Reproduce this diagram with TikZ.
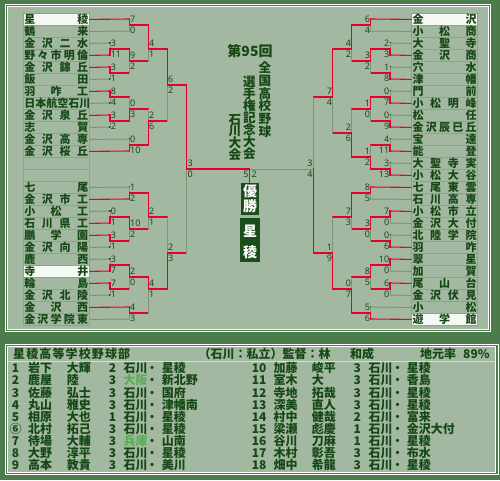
\documentclass[tikz,border=0pt]{standalone}
\usepackage{fontspec}
\setmainfont{Noto Sans CJK JP}
\newfontfamily\scf{Noto Sans}
\definecolor{framec}{HTML}{4C7C4C}
\definecolor{bgc}{HTML}{A3B8A0}
\definecolor{ink}{HTML}{164816}
\definecolor{redl}{HTML}{E8002A}
\definecolor{grayl}{HTML}{7A9577}
\definecolor{boxl}{HTML}{8CA589}
\definecolor{champ}{HTML}{1B4D1B}
\definecolor{lgreen}{HTML}{55B055}
\definecolor{hl}{HTML}{F6F8F4}
\definecolor{hdl}{HTML}{D5DED3}
\newcommand\tn[1]{\hbox to 64pt{\spaceskip=0pt plus 1fil\relax #1}}
\newcommand\spr[2]{\hbox to #1{\spaceskip=0pt plus 1fil\relax #2}}
\tikzset{
  gl/.style={grayl,line width=1pt,line cap=rect},
  rl/.style={redl,line width=1.1pt,line cap=rect},
  tbox/.style={draw=boxl,line width=0.8pt,minimum width=66.3pt,minimum height=12pt,inner sep=0pt,anchor=north west,
    font=\bfseries\fontsize{11}{11}\selectfont,text=ink,text height=9.6pt,text depth=1.4pt},
  sc/.style={font=\scf\fontsize{9}{9}\selectfont,text=ink,inner sep=0pt,text height=6.4pt,text depth=0pt},
  ttl/.style={font=\bfseries\fontsize{12.6}{12.6}\selectfont,text=ink,inner sep=0pt,text height=10.6pt,text depth=1.0pt},
  chw/.style={font=\bfseries\fontsize{14}{14}\selectfont,text=white,inner sep=0pt,text height=12.3pt,text depth=1.7pt},
  rt/.style={font=\bfseries\fontsize{12}{12}\selectfont,text=ink,inner sep=0pt,text height=10.56pt,text depth=1.44pt},
}
\newcommand\Lm[9]{%
  \draw[gl] (#2,#3) -- (#2,#4);
  \ifnum#8=0 \draw[rl] (#2,#3) -- (#2,#5) -- (#9,#5);\else \draw[rl] (#2,#4) -- (#2,#5) -- (#9,#5);\fi
  \node[sc,anchor=west] (#1a) at (#2+0.6,#5-5.3) {#6};
  \node[sc,anchor=west] (#1b) at (#2+0.6,#5+5.3) {#7};}
\newcommand\Rm[9]{%
  \draw[gl] (#2,#3) -- (#2,#4);
  \ifnum#8=0 \draw[rl] (#2,#3) -- (#2,#5) -- (#9,#5);\else \draw[rl] (#2,#4) -- (#2,#5) -- (#9,#5);\fi
  \node[sc,anchor=east] (#1a) at (#2-0.6,#5-5.3) {#6};
  \node[sc,anchor=east] (#1b) at (#2-0.6,#5+5.3) {#7};}
\begin{document}
\begin{tikzpicture}[x=1pt,y=-1pt]
\useasboundingbox (0,0) rectangle (500,480);
\fill[framec] (0,0) rectangle (500,480);
% top panel frame
\draw[white,line width=1pt] (5.5,4.8) rectangle (490.8,331.8);
\draw[white,line width=1pt] (7.6,6.9) rectangle (488.4,329.7);
\fill[bgc] (8.1,7.4) rectangle (487.9,329.2);
% bottom panel frame
\draw[white,line width=1pt] (5.5,344.2) rectangle (498,474.8);
\draw[white,line width=1pt] (7.6,346.3) rectangle (495.8,472.7);
\fill[bgc] (8.1,346.8) rectangle (495.3,472.2);
\draw[hdl,line width=1pt] (8.1,361.7) -- (495.3,361.7);

% team lists
\foreach \nm [count=\i from 0] in {星 稜,鶴 来,金 沢 二 水,野 々 市 明 倫,金 沢 錦 丘,飯 田,羽 咋 工,日 本 航 空 石 川,金 沢 泉 丘,志 賀,金 沢 高 専,金 沢 桜 丘,{},{},七 尾,金 沢 市 工,小 松 工,石 川 県 工,鵬 学 園,金 沢 向 陽,鹿 西,寺 井,輪 島,金 沢 北 陵,金 沢 西,金 沢 学 院 東}{
  \ifnum\i=0 \def\ff{hl}\else\ifnum\i=21 \def\ff{hl}\else\def\ff{none}\fi\fi
  \node[tbox,fill=\ff] (L\i) at (22.7,13+12*\i) {\tn{\nm}};
}
\foreach \nm [count=\i from 0] in {金 沢,小 松 商,大 聖 寺,金 沢 商,穴 水,津 幡,門 前,小 松 明 峰,松 任,金 沢 辰 巳 丘,宝 達,能 登,大 聖 寺 実,小 松 大 谷,七 尾 東 雲,石 川 高 専,小 松 市 立,金 沢 大 付,北 陸 学 院,羽 咋,翠 星,加 賀,尾 山 台,金 沢 伏 見,小 松,遊 学 館}{
  \ifnum\i=0 \def\ff{hl}\else\ifnum\i=25 \def\ff{hl}\else\def\ff{none}\fi\fi
  \node[tbox,fill=\ff] (R\i) at (411,13+12*\i) {\tn{\nm}};
}

% leader lines
\foreach \i/\x/\cc/\d in {0/129.3/rl/0,1/129.3/gl/1,2/110/gl/1,3/110/rl/0,4/110/rl/0,5/110/gl/1,6/110/rl/0,7/110/gl/1,8/110/rl/0,9/110/gl/1,10/129.3/gl/1,11/129.3/rl/0,14/129.3/gl/1,15/129.3/rl/0,16/110/gl/1,17/110/rl/0,18/110/rl/0,19/110/gl/1,20/110/gl/1,21/110/rl/0,22/110/rl/0,23/110/gl/1,24/129.3/rl/0,25/129.3/gl/1}{
  \pgfmathsetmacro\yy{19+12*\i}
  \draw[\cc] (L\i.east) -- (\x,\yy);
  \ifnum\d=1 \fill[ink] (\x-0.7,\yy-0.6) rectangle (\x+0.5,\yy+0.6);\fi
}
\foreach \i/\x/\cc/\d in {0/370.7/rl/0,1/370.7/gl/1,2/390/gl/1,3/390/rl/0,4/390/gl/1,5/390/rl/0,6/390/gl/1,7/390/rl/0,8/390/gl/1,9/390/rl/0,10/390/gl/1,11/390/rl/0,12/390/gl/1,13/390/rl/0,14/370.7/rl/0,15/370.7/gl/1,16/390/rl/0,17/390/gl/1,18/390/gl/1,19/390/rl/0,20/390/rl/0,21/390/gl/1,22/390/rl/0,23/390/gl/1,24/370.7/gl/1,25/370.7/rl/0}{
  \pgfmathsetmacro\yy{19+12*\i}
  \draw[\cc] (R\i.west) -- (\x,\yy);
  \ifnum\d=1 \fill[ink] (\x-0.5,\yy-0.6) rectangle (\x+0.7,\yy+0.6);\fi
}

% left bracket
\Lm{m1}{129.3}{19}{31}{25}{7}{0}{0}{148.3}
\Lm{m2}{110}{43}{55}{49}{3}{11}{1}{129.3}
\Lm{m3}{110}{67}{79}{73}{3}{1}{0}{129.3}
\Lm{m4}{129.3}{49}{73}{61}{9}{2}{0}{148.3}
\Lm{m5}{148.3}{25}{61}{49}{4}{1}{0}{167.3}
\Lm{m6}{110}{91}{103}{97}{8}{4}{0}{129.3}
\Lm{m7}{110}{115}{127}{121}{3}{2}{0}{129.3}
\Lm{m8}{129.3}{97}{121}{109}{0}{3}{1}{148.3}
\Lm{m9}{129.3}{139}{151}{145}{0}{10}{1}{148.3}
\Lm{m10}{148.3}{109}{145}{121}{2}{6}{1}{167.3}
\Lm{m11}{167.3}{49}{121}{85}{6}{2}{0}{186.7}
\Lm{m12}{129.3}{187}{199}{193}{1}{2}{1}{148.3}
\Lm{m13}{110}{211}{223}{217}{0}{1}{1}{129.3}
\Lm{m14}{110}{235}{247}{241}{3}{1}{0}{129.3}
\Lm{m15}{129.3}{217}{241}{229}{10}{2}{0}{148.3}
\Lm{m16}{148.3}{193}{229}{217}{2}{1}{0}{167.3}
\Lm{m17}{110}{259}{271}{265}{3}{7}{1}{129.3}
\Lm{m18}{110}{283}{295}{289}{7}{1}{0}{129.3}
\Lm{m19}{129.3}{265}{289}{277}{2}{0}{0}{148.3}
\Lm{m20}{129.3}{307}{319}{313}{4}{3}{0}{148.3}
\Lm{m21}{148.3}{277}{313}{289}{4}{1}{0}{167.3}
\Lm{m22}{167.3}{217}{289}{253}{2}{3}{1}{186.7}
\draw[gl] (249.3,169) -- (313.3,169);
\Lm{m23}{186.7}{85}{253}{169}{3}{0}{0}{249.3}

% right bracket
\Rm{n1}{370.7}{19}{31}{25}{6}{4}{0}{351.7}
\Rm{n2}{390}{43}{55}{49}{2}{3}{1}{370.7}
\Rm{n3}{390}{67}{79}{73}{1}{8}{1}{370.7}
\Rm{n4}{370.7}{49}{73}{61}{3}{2}{0}{351.7}
\Rm{n5}{351.7}{25}{61}{49}{4}{2}{0}{332.7}
\Rm{n6}{390}{91}{103}{97}{0}{7}{1}{370.7}
\Rm{n7}{390}{115}{127}{121}{0}{9}{1}{370.7}
\Rm{n8}{370.7}{97}{121}{109}{1}{0}{0}{351.7}
\Rm{n9}{390}{139}{151}{145}{4}{11}{1}{370.7}
\Rm{n10}{390}{163}{175}{169}{3}{13}{1}{370.7}
\Rm{n11}{370.7}{145}{169}{157}{1}{2}{1}{351.7}
\Rm{n12}{351.7}{109}{157}{133}{2}{6}{1}{332.7}
\Rm{n13}{332.7}{49}{133}{97}{7}{4}{0}{313.3}
\Rm{n14}{370.7}{187}{199}{193}{8}{5}{0}{351.7}
\Rm{n15}{390}{211}{223}{217}{7}{0}{0}{370.7}
\Rm{n16}{390}{235}{247}{241}{0}{6}{1}{370.7}
\Rm{n17}{370.7}{217}{241}{229}{3}{0}{0}{351.7}
\Rm{n18}{351.7}{193}{229}{217}{7}{3}{0}{332.7}
\Rm{n19}{390}{259}{271}{265}{10}{0}{0}{370.7}
\Rm{n20}{390}{283}{295}{289}{6}{0}{0}{370.7}
\Rm{n21}{370.7}{265}{289}{277}{8}{5}{0}{351.7}
\Rm{n22}{370.7}{307}{319}{313}{5}{6}{1}{351.7}
\Rm{n23}{351.7}{277}{313}{289}{0}{7}{1}{332.7}
\Rm{n24}{332.7}{217}{289}{253}{1}{9}{1}{313.3}
\Rm{n25}{313.3}{97}{253}{169}{3}{4}{1}{313.3}

% final
\node[sc,anchor=east] (f1) at (248.6,174.5) {5};
\node[sc,anchor=west] (f2) at (251.3,174.5) {2};
\node[fill=champ,minimum width=18pt,minimum height=31.6pt,inner sep=0pt,anchor=north] (win) at (250,182.7) {};
\node[fill=champ,minimum width=20pt,minimum height=44.4pt,inner sep=0pt,anchor=north] (champ) at (250,217.3) {};
\draw[rl,line cap=butt] (249.3,168.5) -- (win.north -| 249.3,0);
\node[chw] (w1) at (250,191.2) {優};
\node[chw] (w2) at (250,206.2) {勝};
\node[chw] (w3) at (250,231.6) {星};
\node[chw] (w4) at (250,252.4) {稜};

% title
\node[ttl,font=\bfseries\fontsize{14}{14}\selectfont,text height=12pt,text depth=1.6pt] (t0) at (250,51.6) {第95回};
\foreach \ch [count=\k from 0] in {全,国,高,校,野,球}{\node[ttl] (ta\k) at (265,68+12.7*\k) {\ch};}
\foreach \ch [count=\k from 0] in {選,手,権,記,念,大,会}{\node[ttl] (tb\k) at (249.4,81.3+12.1*\k) {\ch};}
\foreach \ch [count=\k from 0] in {石,川,大,会}{\node[ttl] (tc\k) at (235,119.3+11.8*\k) {\ch};}

% roster header
\node[rt,anchor=west] (hd1) at (13,354.2) {\spr{117pt}{星 稜 高 等 学 校 野 球 部}};
\node[rt,anchor=west] (hd2) at (198.5,354.2) {（石川：私立）監督：林};
\node[rt,anchor=west] (hd3) at (350,354.2) {和成};
\node[rt,anchor=west] (hd4) at (420,354.2) {地元率};
\node[rt,anchor=west] (hd5) at (463,354.2) {89\%};

% roster
\foreach \num/\sur/\giv/\gr/\pc/\pf/\sch [count=\k from 0] in {
1/岩下/大輝/2/ink/石川/星稜,
2/鹿屋/陸/3/lgreen/大阪/新北野,
3/佐藤/弘士/3/ink/石川/国府,
4/丸山/雅史/3/ink/石川/津幡南,
5/相原/大也/1/ink/石川/星稜,
⑥/北村/拓己/3/ink/石川/星稜,
7/待場/大輔/3/lgreen/兵庫/山南,
8/大野/淳平/3/ink/石川/星稜,
9/高本/敦貴/3/ink/石川/美川}{
  \pgfmathsetmacro\yy{368.3+12.1*\k}
  \node[rt] (an\k) at (15.6,\yy) {\num};
  \node[rt,anchor=west] (as\k) at (28,\yy) {\sur};
  \node[rt,anchor=west] (ag\k) at (66.7,\yy) {\giv};
  \node[rt] (ay\k) at (112.5,\yy) {\gr};
  \node[rt,anchor=west,text=\pc] (ap\k) at (123.3,\yy) {\pf};
  \node[rt] (ad\k) at (152,\yy) {・};
  \node[rt,anchor=west] (ac\k) at (161.7,\yy) {\sch};
}
\foreach \num/\sur/\giv/\gr/\pf/\sch [count=\k from 0] in {
10/加藤/峻平/3/石川/星稜,
11/室木/大/3/石川/香島,
12/寺地/拓哉/3/石川/星稜,
13/深美/直人/3/石川/星稜,
14/村中/健哉/2/石川/富来,
15/梁瀬/彪慶/1/石川/金沢大付,
16/谷川/刀麻/1/石川/星稜,
17/木村/彰吾/3/石川/布水,
18/畑中/希龍/3/石川/星稜}{
  \pgfmathsetmacro\yy{368.3+12.1*\k}
  \node[rt] (bn\k) at (259.2,\yy) {\num};
  \node[rt,anchor=west] (bs\k) at (273.3,\yy) {\sur};
  \node[rt,anchor=west] (bg\k) at (311.7,\yy) {\giv};
  \node[rt] (by\k) at (357.3,\yy) {\gr};
  \node[rt,anchor=west] (bp\k) at (368.3,\yy) {\pf};
  \node[rt] (bd\k) at (397.7,\yy) {・};
  \node[rt,anchor=west] (bc\k) at (406.7,\yy) {\sch};
}
\end{tikzpicture}
\end{document}
